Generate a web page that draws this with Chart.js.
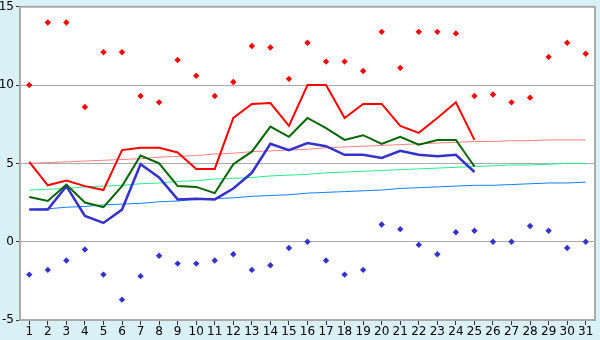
<!DOCTYPE html>
<html>
<head>
<meta charset="utf-8">
<script src="https://cdn.jsdelivr.net/npm/chart.js@4/dist/chart.umd.min.js"></script>
<style>
html,body{margin:0;padding:0;background:#d9f0f7;}
#wrap{width:600px;height:340px;position:relative;}
</style>
</head>
<body>
<div id="wrap"><canvas id="c" width="600" height="340"></canvas></div>
<script>
const days = ["1","2","3","4","5","6","7","8","9","10","11","12","13","14","15","16","17","18","19","20","21","22","23","24","25","26","27","28","29","30","31"];
const yTicks = [-5, 0, 5, 10, 15];

const dailyMax = [10.0,14.0,14.0,8.6,12.1,12.1,9.3,8.9,11.6,10.6,9.3,10.2,12.5,12.4,10.4,12.7,11.5,11.5,10.9,13.4,11.1,13.4,13.4,13.3,9.3,9.4,8.9,9.2,11.8,12.7,12.0];
const dailyMin = [-2.1,-1.8,-1.2,-0.5,-2.1,-3.7,-2.2,-0.9,-1.4,-1.4,-1.2,-0.8,-1.8,-1.5,-0.4,0.0,-1.2,-2.1,-1.8,1.1,0.8,-0.2,-0.8,0.6,0.7,0.0,0.0,1.0,0.7,-0.4,0.0];

const lineRed   = [5.1,3.6,3.9,3.55,3.3,5.85,6.0,6.0,5.7,4.65,4.65,7.9,8.8,8.85,7.4,10.0,10.0,7.9,8.8,8.8,7.4,6.95,7.9,8.9,6.5,null,null,null,null,null,null];
const lineGreen = [2.85,2.6,3.65,2.5,2.2,3.55,5.5,5.0,3.55,3.5,3.1,4.95,5.75,7.35,6.7,7.9,7.25,6.5,6.8,6.25,6.7,6.2,6.5,6.5,4.8,null,null,null,null,null,null];
const lineBlue  = [2.05,2.05,3.55,1.65,1.2,2.05,4.95,4.1,2.7,2.75,2.7,3.4,4.4,6.25,5.85,6.3,6.1,5.55,5.55,5.35,5.8,5.55,5.45,5.55,4.45,null,null,null,null,null,null];

const normalMax  = [5.0,5.05,5.1,5.15,5.2,5.25,5.3,5.4,5.45,5.5,5.6,5.65,5.75,5.8,5.85,5.9,6.0,6.05,6.1,6.15,6.2,6.25,6.3,6.35,6.4,6.4,6.45,6.45,6.5,6.5,6.5];
const normalMean = [3.3,3.35,3.4,3.5,3.55,3.6,3.7,3.75,3.85,3.9,4.0,4.05,4.1,4.2,4.25,4.3,4.4,4.45,4.5,4.55,4.6,4.65,4.7,4.75,4.8,4.85,4.9,4.9,4.95,5.0,5.0];
const normalMin  = [2.05,2.1,2.2,2.25,2.35,2.4,2.45,2.55,2.6,2.7,2.75,2.8,2.9,2.95,3.0,3.1,3.15,3.2,3.25,3.3,3.4,3.45,3.5,3.55,3.6,3.6,3.65,3.7,3.75,3.75,3.8];

const areaPlugin = {
  id: 'area',
  beforeDraw(chart) {
    const {ctx, chartArea: a} = chart;
    ctx.save();
    ctx.fillStyle = '#d9f0f7';
    ctx.fillRect(0, 0, chart.width, chart.height);
    ctx.fillStyle = '#ffffff';
    ctx.fillRect(a.left, a.top, a.right - a.left, a.bottom - a.top);
    ctx.restore();
  },
  afterDraw(chart) {
    const {ctx, chartArea: a} = chart;
    ctx.save();
    ctx.strokeStyle = '#aaaaaa';
    ctx.lineWidth = 2;
    ctx.strokeRect(a.left, a.top, a.right - a.left, a.bottom - a.top);
    ctx.restore();
  }
};

const xFont = {family: 'DejaVu Sans', size: 12};
const yFont = {family: 'DejaVu Sans', size: 12, lineHeight: 0.8};

new Chart(document.getElementById('c'), {
  type: 'line',
  data: {
    labels: days,
    datasets: [
      {data: dailyMax, showLine: false, pointStyle: 'rectRot', pointRadius: 3.2, pointBorderWidth: 0, pointBackgroundColor: '#ff0000', borderColor: '#ff0000'},
      {data: dailyMin, showLine: false, pointStyle: 'rectRot', pointRadius: 3.2, pointBorderWidth: 0, pointBackgroundColor: '#3333cc', borderColor: '#3333cc'},
      {data: lineRed, borderColor: '#ff0000', borderWidth: 2, pointRadius: 0},
      {data: lineGreen, borderColor: '#006600', borderWidth: 2, pointRadius: 0},
      {data: lineBlue, borderColor: '#3333cc', borderWidth: 2.5, pointRadius: 0},
      {data: normalMax, borderColor: '#ff8080', borderWidth: 1, pointRadius: 0},
      {data: normalMean, borderColor: '#22f088', borderWidth: 1, pointRadius: 0},
      {data: normalMin, borderColor: '#1080ff', borderWidth: 1, pointRadius: 0}
    ]
  },
  options: {
    responsive: false,
    animation: false,
    layout: {padding: {top: 5, right: 5, left: 0, bottom: 0}},
    plugins: {legend: {display: false}, tooltip: {enabled: false}},
    scales: {
      x: {
        offset: true,
        grid: {display: true, drawOnChartArea: false, drawTicks: true, tickLength: 5, color: '#333333', offset: false},
        border: {display: false},
        ticks: {font: xFont, color: '#000000', padding: 0, maxRotation: 0, autoSkip: false},
        afterFit(s) { s.height = 20; }
      },
      y: {
        min: -5, max: 15,
        afterBuildTicks(s) { s.ticks = yTicks.map(v => ({value: v})); },
        grid: {color: '#aaaaaa', lineWidth: 1, tickLength: 4, drawTicks: true, tickColor: '#333333'},
        border: {display: false},
        ticks: {font: yFont, color: '#000000', padding: 2},
        afterFit(s) { s.width = 20; }
      }
    }
  },
  plugins: [areaPlugin]
});
</script>
</body>
</html>
